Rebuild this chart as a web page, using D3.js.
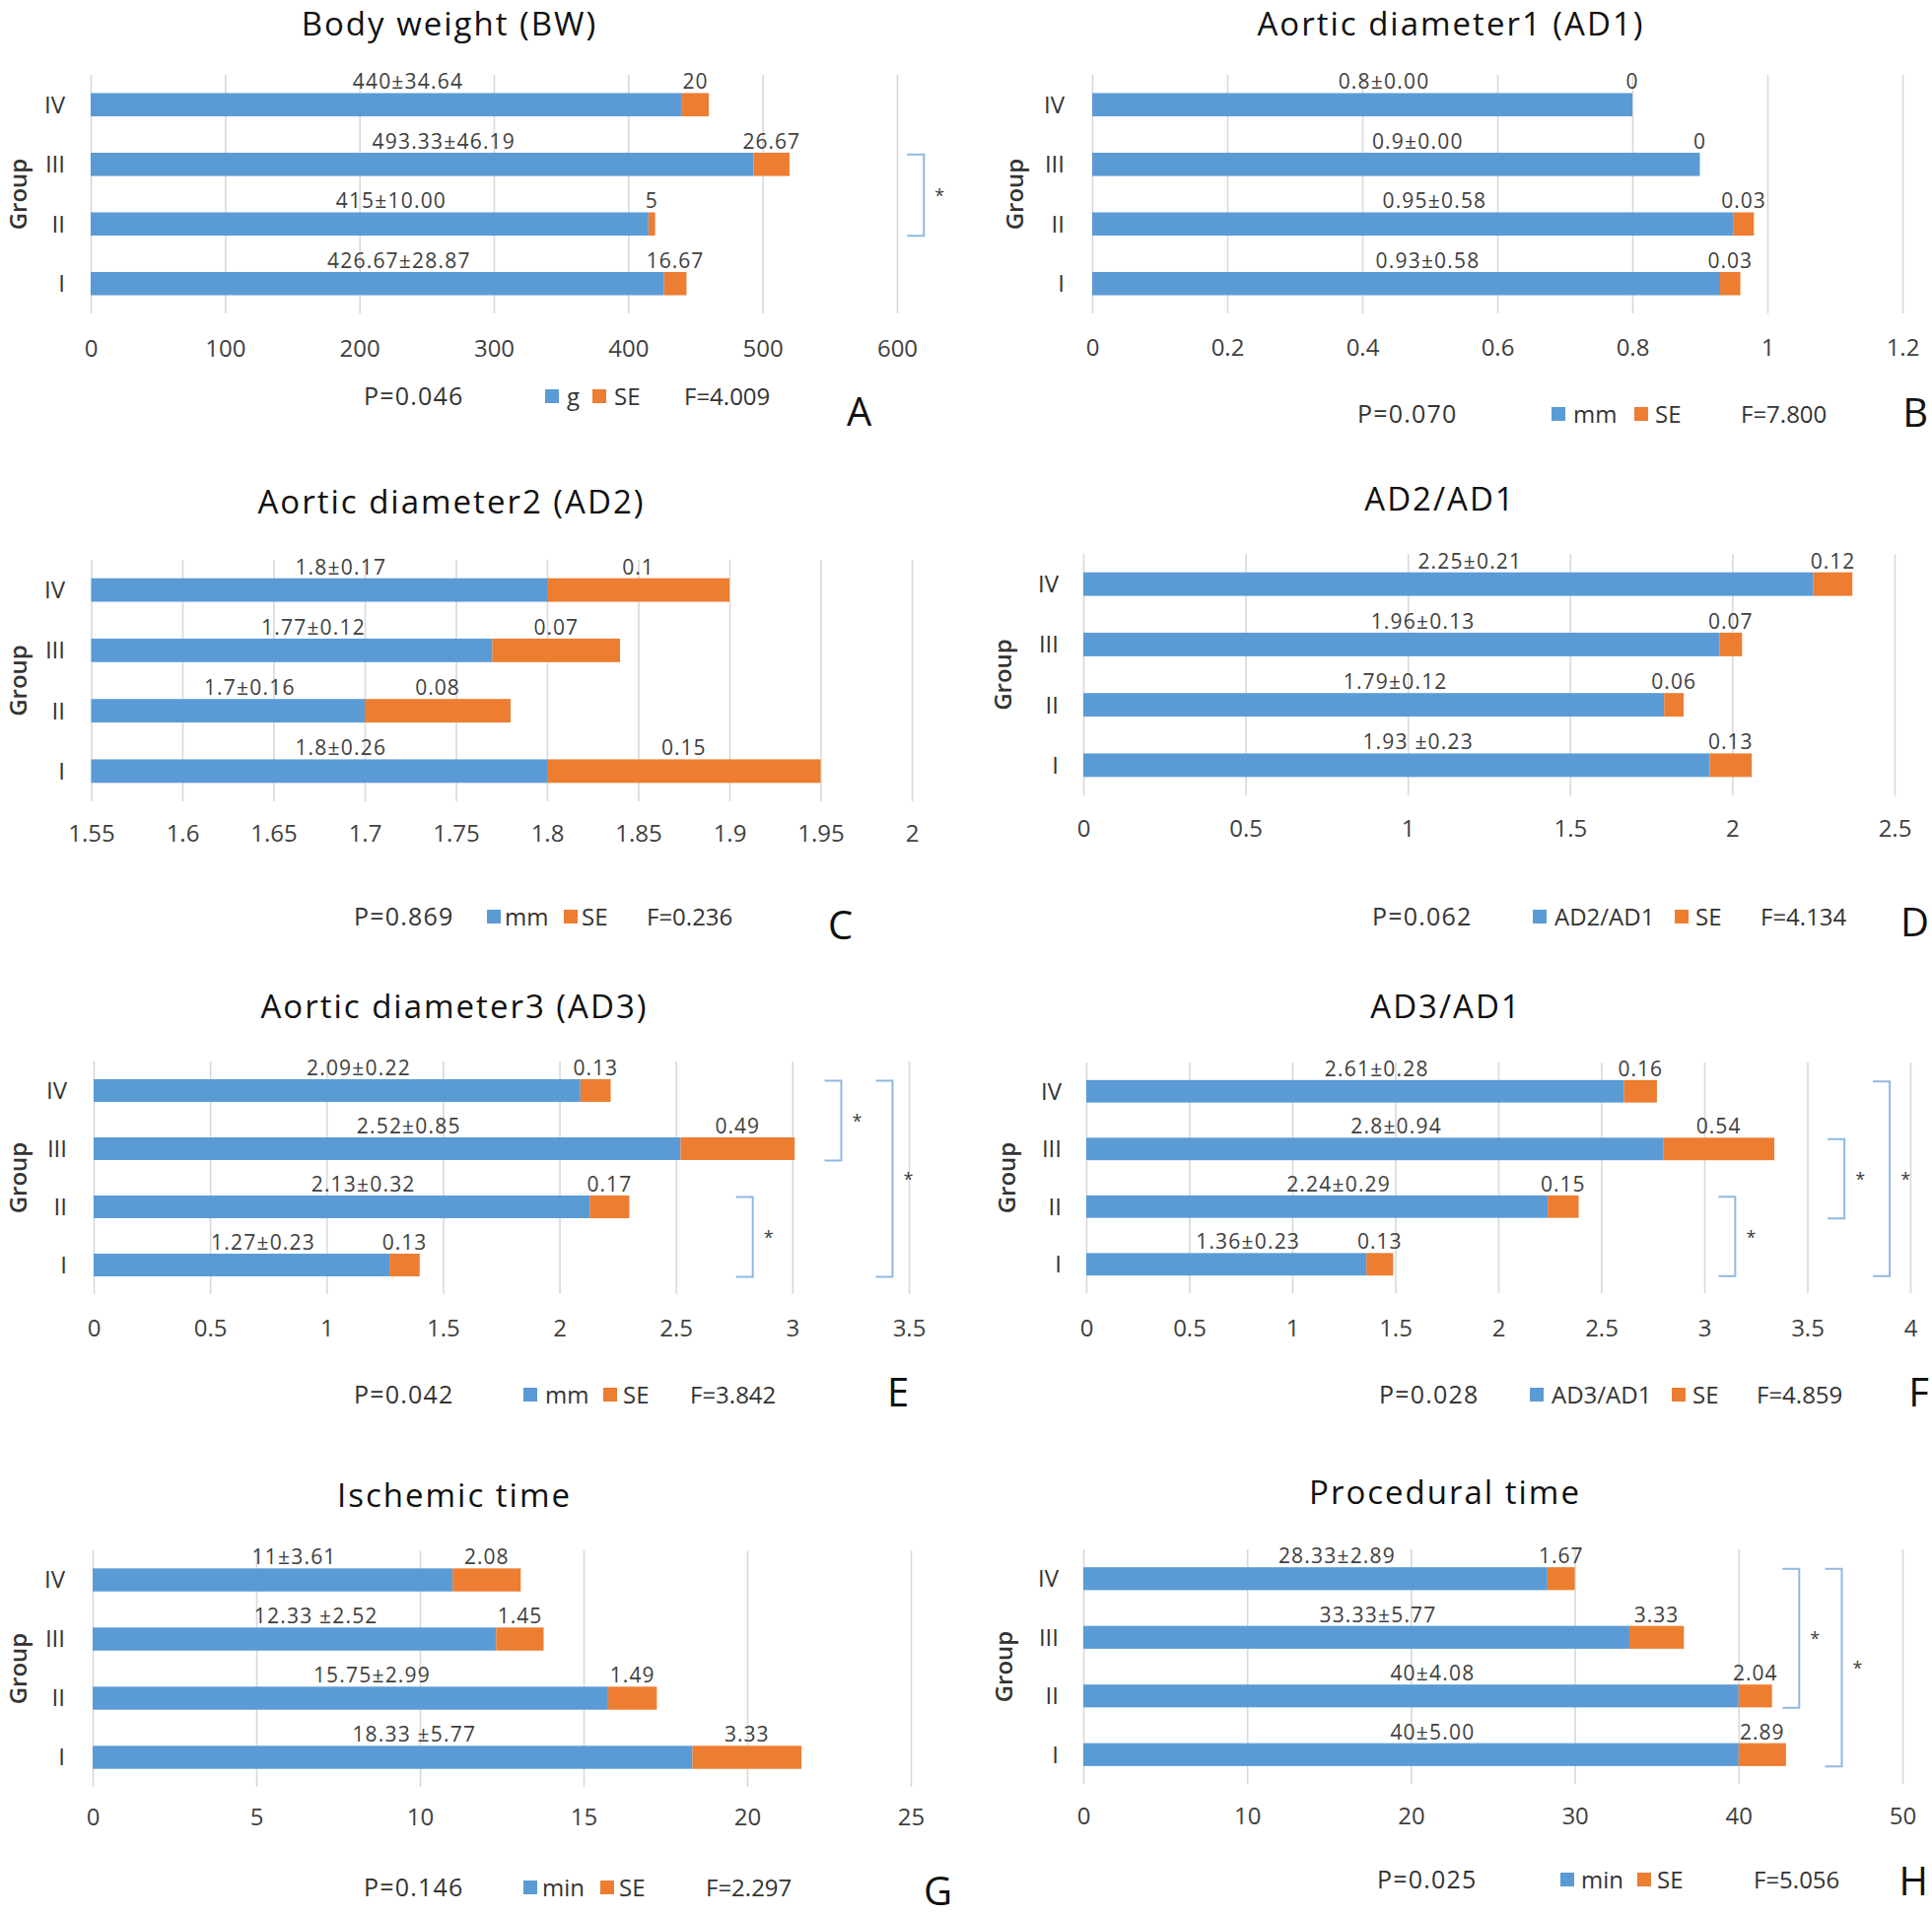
<!DOCTYPE html>
<html><head><meta charset="utf-8">
<script src="https://cdn.jsdelivr.net/npm/d3@7"></script>
<style>
body{margin:0;background:#fff}
svg{display:block}
text{font-family:"Open Sans","Noto Sans",sans-serif}
</style>
</head><body>
<svg id="chart" width="1960" height="1944"></svg>
<script>
// ---------- DATA ----------
const groups = ["IV", "III", "II", "I"];
const seriesNames = ["mean", "SE"];

// A: Body weight
const bwMean = [440, 493.33, 415, 426.67];
const bwSE = [20, 26.67, 5, 16.67];
const bwLabels = ["440±34.64", "493.33±46.19", "415±10.00", "426.67±28.87"];
const bwSELabels = ["20", "26.67", "5", "16.67"];
const bwTicks = [0, 100, 200, 300, 400, 500, 600];
const bwTickLabels = ["0", "100", "200", "300", "400", "500", "600"];
const bwBrackets = [["III", "II", 620]];

// B: Aortic diameter1
const ad1Mean = [0.8, 0.9, 0.95, 0.93];
const ad1SE = [0, 0, 0.03, 0.03];
const ad1Labels = ["0.8±0.00", "0.9±0.00", "0.95±0.58", "0.93±0.58"];
const ad1SELabels = ["0", "0", "0.03", "0.03"];
const ad1Ticks = [0, 0.2, 0.4, 0.6, 0.8, 1, 1.2];
const ad1TickLabels = ["0", "0.2", "0.4", "0.6", "0.8", "1", "1.2"];
const ad1Brackets = [];

// C: Aortic diameter2
const ad2Mean = [1.8, 1.77, 1.7, 1.8];
const ad2SE = [0.1, 0.07, 0.08, 0.15];
const ad2Labels = ["1.8±0.17", "1.77±0.12", "1.7±0.16", "1.8±0.26"];
const ad2SELabels = ["0.1", "0.07", "0.08", "0.15"];
const ad2Ticks = [1.55, 1.6, 1.65, 1.7, 1.75, 1.8, 1.85, 1.9, 1.95, 2];
const ad2TickLabels = ["1.55", "1.6", "1.65", "1.7", "1.75", "1.8", "1.85", "1.9", "1.95", "2"];
const ad2Brackets = [];

// D: AD2/AD1
const r21Mean = [2.25, 1.96, 1.79, 1.93];
const r21SE = [0.12, 0.07, 0.06, 0.13];
const r21Labels = ["2.25±0.21", "1.96±0.13", "1.79±0.12", "1.93 ±0.23"];
const r21SELabels = ["0.12", "0.07", "0.06", "0.13"];
const r21Ticks = [0, 0.5, 1, 1.5, 2, 2.5];
const r21TickLabels = ["0", "0.5", "1", "1.5", "2", "2.5"];
const r21Brackets = [];

// E: Aortic diameter3
const ad3Mean = [2.09, 2.52, 2.13, 1.27];
const ad3SE = [0.13, 0.49, 0.17, 0.13];
const ad3Labels = ["2.09±0.22", "2.52±0.85", "2.13±0.32", "1.27±0.23"];
const ad3SELabels = ["0.13", "0.49", "0.17", "0.13"];
const ad3Ticks = [0, 0.5, 1, 1.5, 2, 2.5, 3, 3.5];
const ad3TickLabels = ["0", "0.5", "1", "1.5", "2", "2.5", "3", "3.5"];
const ad3Brackets = [["IV", "III", 3.21], ["IV", "I", 3.43], ["II", "I", 2.83]];

// F: AD3/AD1
const r31Mean = [2.61, 2.8, 2.24, 1.36];
const r31SE = [0.16, 0.54, 0.15, 0.13];
const r31Labels = ["2.61±0.28", "2.8±0.94", "2.24±0.29", "1.36±0.23"];
const r31SELabels = ["0.16", "0.54", "0.15", "0.13"];
const r31Ticks = [0, 0.5, 1, 1.5, 2, 2.5, 3, 3.5, 4];
const r31TickLabels = ["0", "0.5", "1", "1.5", "2", "2.5", "3", "3.5", "4"];
const r31Brackets = [["II", "I", 3.15], ["III", "II", 3.68], ["IV", "I", 3.9]];

// G: Ischemic time
const isMean = [11, 12.33, 15.75, 18.33];
const isSE = [2.08, 1.45, 1.49, 3.33];
const isLabels = ["11±3.61", "12.33 ±2.52", "15.75±2.99", "18.33 ±5.77"];
const isSELabels = ["2.08", "1.45", "1.49", "3.33"];
const isTicks = [0, 5, 10, 15, 20, 25];
const isTickLabels = ["0", "5", "10", "15", "20", "25"];
const isBrackets = [];

// H: Procedural time
const prMean = [28.33, 33.33, 40, 40];
const prSE = [1.67, 3.33, 2.04, 2.89];
const prLabels = ["28.33±2.89", "33.33±5.77", "40±4.08", "40±5.00"];
const prSELabels = ["1.67", "3.33", "2.04", "2.89"];
const prTicks = [0, 10, 20, 30, 40, 50];
const prTickLabels = ["0", "10", "20", "30", "40", "50"];
const prBrackets = [["IV", "II", 43.7], ["IV", "I", 46.3]];

const titles = ["Body weight (BW)", "Aortic diameter1 (AD1)", "Aortic diameter2 (AD2)", "AD2/AD1",
                "Aortic diameter3 (AD3)", "AD3/AD1", "Ischemic time", "Procedural time"];
const units = ["g", "mm", "mm", "AD2/AD1", "mm", "AD3/AD1", "min", "min"];
const pValues = ["P=0.046", "P=0.070", "P=0.869", "P=0.062", "P=0.042", "P=0.028", "P=0.146", "P=0.025"];
const fValues = ["F=4.009", "F=7.800", "F=0.236", "F=4.134", "F=3.842", "F=4.859", "F=2.297", "F=5.056"];
const letters = ["A", "B", "C", "D", "E", "F", "G", "H"];

// ---------- LAYOUT ----------
const layouts = [
  {x0:92, x1:910, y0:76, y1:318, tickY:353, titleX:456, titleY:36, groupX:19, catX:66, legY:402, leg:[369,553,575,601,623,694], letter:[859,432,"start"]},
  {x0:1108, x1:1930, y0:76, y1:318, tickY:352, titleX:1472, titleY:36, groupX:1030, catX:1080, legY:420, leg:[1377,1574,1596,1658,1679,1766], letter:[1956,433,"end"]},
  {x0:92.5, x1:925, y0:568, y1:813, tickY:845, titleX:458, titleY:521, groupX:19, catX:66, legY:930, leg:[359,494,512,572,590,656], letter:[840,953,"start"]},
  {x0:1099, x1:1922, y0:562, y1:807, tickY:840, titleX:1461, titleY:518, groupX:1018, catX:1074, legY:930, leg:[1392,1555,1577,1699,1720,1786], letter:[1957,950,"end"]},
  {x0:95, x1:922, y0:1077, y1:1313, tickY:1347, titleX:461, titleY:1033, groupX:19, catX:68, legY:1415, leg:[359,531,553,612,632,700], letter:[900,1427,"start"]},
  {x0:1102, x1:1938, y0:1078, y1:1312, tickY:1347, titleX:1467, titleY:1033, groupX:1022, catX:1077, legY:1415, leg:[1399,1552,1574,1696,1717,1782], letter:[1957,1427,"end"]},
  {x0:94, x1:924, y0:1573, y1:1813, tickY:1843, titleX:461, titleY:1529, groupX:19, catX:66, legY:1915, leg:[369,531,550,609,628,716], letter:[937,1933,"start"]},
  {x0:1099, x1:1930, y0:1572, y1:1810, tickY:1842, titleX:1466, titleY:1526, groupX:1019, catX:1074, legY:1907, leg:[1397,1583,1604,1661,1681,1779], letter:[1956,1923,"end"]}
];

const panelData = [
  [bwMean, bwSE, bwLabels, bwSELabels, bwTicks, bwTickLabels, bwBrackets],
  [ad1Mean, ad1SE, ad1Labels, ad1SELabels, ad1Ticks, ad1TickLabels, ad1Brackets],
  [ad2Mean, ad2SE, ad2Labels, ad2SELabels, ad2Ticks, ad2TickLabels, ad2Brackets],
  [r21Mean, r21SE, r21Labels, r21SELabels, r21Ticks, r21TickLabels, r21Brackets],
  [ad3Mean, ad3SE, ad3Labels, ad3SELabels, ad3Ticks, ad3TickLabels, ad3Brackets],
  [r31Mean, r31SE, r31Labels, r31SELabels, r31Ticks, r31TickLabels, r31Brackets],
  [isMean, isSE, isLabels, isSELabels, isTicks, isTickLabels, isBrackets],
  [prMean, prSE, prLabels, prSELabels, prTicks, prTickLabels, prBrackets]
];

const BLUE = "#5B9BD5", ORANGE = "#ED7D31", GRID = "#d9d9d9", TXT = "#404040";
const FONT = '"Open Sans","Noto Sans",sans-serif';
const svg = d3.select("#chart");

panelData.forEach((pd, i) => {
  const [means, ses, labels, seLabels, ticks, tickLabels, brackets] = pd;
  const L = layouts[i];
  const g = svg.append("g").attr("class", "panel-" + letters[i]);

  const x = d3.scaleLinear().domain([ticks[0], ticks[ticks.length - 1]]).range([L.x0, L.x1]);
  const y = d3.scaleBand().domain(groups).range([L.y0, L.y1]).paddingInner(0.61).paddingOuter(0.305);
  const bw = y.bandwidth();

  // gridlines + tick labels
  const axis = d3.axisBottom(x)
    .tickValues(ticks)
    .tickFormat((d, k) => tickLabels[k])
    .tickSize(-(L.y1 - L.y0))
    .tickPadding(L.tickY - L.y1 - 8.5);
  const ax = g.append("g").attr("transform", `translate(0,${L.y1})`).call(axis);
  ax.select(".domain").remove();
  ax.selectAll(".tick line").attr("stroke", GRID).attr("stroke-width", 1.6);
  ax.selectAll(".tick text").attr("fill", TXT).style("font-size", "24px").style("font-family", FONT);

  const rows = groups.map((gr, k) => ({g: gr, m: means[k], s: ses[k], lab: labels[k], slab: seLabels[k]}));

  // stacked bars
  const stacked = d3.stack().keys(seriesNames)(rows.map(r => ({g: r.g, mean: r.m, SE: r.s})));
  const base = ticks[0];
  const colors = [BLUE, ORANGE];
  stacked.forEach((layer, li) => {
    g.append("g").selectAll("rect").data(layer).join("rect")
      .attr("x", d => x(li === 0 ? base : d[0]))
      .attr("y", d => y(d.data.g))
      .attr("width", d => Math.max(0, x(d[1]) - x(li === 0 ? base : d[0])))
      .attr("height", bw)
      .attr("fill", colors[li]);
  });

  // mean labels
  g.append("g").selectAll("text").data(rows).join("text")
    .attr("x", d => (x(base) + x(d.m)) / 2 + 22)
    .attr("y", d => y(d.g) - 4)
    .attr("text-anchor", "middle")
    .attr("fill", TXT)
    .style("font-size", "21px").style("letter-spacing", "1.2px")
    .text(d => d.lab);

  // SE labels
  g.append("g").selectAll("text").data(rows).join("text")
    .attr("x", d => x(d.m + d.s / 2))
    .attr("y", d => y(d.g) - 4)
    .attr("text-anchor", "middle")
    .attr("fill", TXT)
    .style("font-size", "21px").style("letter-spacing", "1px")
    .text(d => d.slab);

  // category labels
  g.append("g").selectAll("text").data(groups).join("text")
    .attr("x", L.catX)
    .attr("y", d => y(d) + bw / 2)
    .attr("dy", "0.35em")
    .attr("text-anchor", "end")
    .attr("fill", "#333")
    .style("font-size", "24px")
    .text(d => d);

  // Group axis title
  g.append("text")
    .attr("transform", `translate(${L.groupX},${(L.y0 + L.y1) / 2}) rotate(-90)`)
    .attr("text-anchor", "middle")
    .attr("dy", "0.35em")
    .attr("fill", "#333")
    .style("font-size", "24px").style("font-weight", "600")
    .text("Group");

  // title
  g.append("text")
    .attr("x", L.titleX).attr("y", L.titleY)
    .attr("text-anchor", "middle")
    .attr("fill", "#111")
    .style("font-size", "33px").style("letter-spacing", "2px")
    .text(titles[i]);

  // significance brackets
  brackets.forEach(b => {
    const bx = x(b[2]);
    const ya = y(b[0]) + bw / 2 - 10;
    const yb = y(b[1]) + bw / 2 + 12;
    g.append("path")
      .attr("d", `M${bx - 17},${ya}H${bx}V${yb}H${bx - 17}`)
      .attr("fill", "none").attr("stroke", "#8fb8e3").attr("stroke-width", 2);
    g.append("text")
      .attr("x", bx + 16).attr("y", (ya + yb) / 2 + 7)
      .attr("text-anchor", "middle")
      .attr("fill", TXT)
      .style("font-size", "18px")
      .text("*");
  });

  // legend / stats line
  const ly = L.legY;
  const lg = g.append("g");
  lg.append("text").attr("x", L.leg[0]).attr("y", ly).attr("dy", "0.36em")
    .attr("fill", "#333").style("font-size", "25px").style("letter-spacing", "1.2px").text(pValues[i]);
  lg.append("rect").attr("x", L.leg[1]).attr("y", ly - 7).attr("width", 14).attr("height", 14).attr("fill", BLUE);
  lg.append("text").attr("x", L.leg[2]).attr("y", ly).attr("dy", "0.36em")
    .attr("fill", "#333").style("font-size", "24px").text(units[i]);
  lg.append("rect").attr("x", L.leg[3]).attr("y", ly - 7).attr("width", 14).attr("height", 14).attr("fill", ORANGE);
  lg.append("text").attr("x", L.leg[4]).attr("y", ly).attr("dy", "0.36em")
    .attr("fill", "#333").style("font-size", "24px").text("SE");
  lg.append("text").attr("x", L.leg[5]).attr("y", ly).attr("dy", "0.36em")
    .attr("fill", "#333").style("font-size", "24px").text(fValues[i]);

  // panel letter
  g.append("text").attr("x", L.letter[0]).attr("y", L.letter[1])
    .attr("text-anchor", L.letter[2])
    .attr("fill", "#111").style("font-size", "40px").text(letters[i]);
});
</script>
</body></html>
